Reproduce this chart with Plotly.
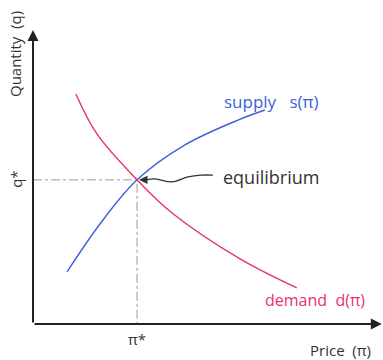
import plotly.graph_objects as go

# (price on x, quantity on y)
supply_price = [1.00, 1.97, 3.06, 4.47, 6.03, 6.82]
supply_qty = [1.76, 3.38, 4.87, 6.05, 6.89, 7.23]

demand_price = [1.26, 1.88, 3.06, 4.09, 6.09, 7.76]
demand_qty = [7.77, 6.42, 4.87, 3.75, 2.20, 1.22]

eq_price = 3.06
eq_qty = 4.87

# squiggly pointer from the "equilibrium" label back to the crossing
pointer_price = [5.29, 4.94, 4.56, 4.09, 3.59, 3.32]
pointer_qty = [5.03, 5.03, 4.97, 4.80, 4.90, 4.87]

BLUE = "#3d5fd8"
PINK = "#e8336b"
INK = "#333333"
FONT = "Open Sans"

fig = go.Figure()

# guide lines to the axes
fig.add_trace(go.Scatter(
    x=[0, eq_price, eq_price], y=[eq_qty, eq_qty, 0],
    mode="lines", line=dict(color="#9a9a9a", width=1, dash="dashdot"),
    hoverinfo="skip"
))

fig.add_trace(go.Scatter(
    x=supply_price, y=supply_qty, mode="lines",
    line=dict(color=BLUE, width=1.4, shape="spline", smoothing=1.0), name="supply"
))
fig.add_trace(go.Scatter(
    x=demand_price, y=demand_qty, mode="lines",
    line=dict(color=PINK, width=1.4, shape="spline", smoothing=1.0), name="demand"
))
fig.add_trace(go.Scatter(
    x=pointer_price, y=pointer_qty, mode="lines",
    line=dict(color=INK, width=1.3, shape="spline"), hoverinfo="skip"
))

annotations = [
    # axes with arrow tips
    dict(x=10.26, y=0, ax=0, ay=0, xref="x", yref="y", axref="x", ayref="y",
         showarrow=True, arrowhead=2, arrowsize=1.1, arrowwidth=2, arrowcolor="#222", text=""),
    dict(x=0, y=9.93, ax=0, ay=0, xref="x", yref="y", axref="x", ayref="y",
         showarrow=True, arrowhead=2, arrowsize=1.1, arrowwidth=2, arrowcolor="#222", text=""),
    # arrow tip of the pointer
    dict(x=eq_price + 0.06, y=eq_qty, ax=pointer_price[-1], ay=pointer_qty[-1],
         xref="x", yref="y", axref="x", ayref="y",
         showarrow=True, arrowhead=2, arrowsize=1.4, arrowwidth=1.2, arrowcolor=INK, text=""),
    dict(x=7.0, y=4.97, text="equilibrium", showarrow=False,
         font=dict(family=FONT, size=18, color=INK)),
    dict(x=7.0, y=7.52, text="supply   s(π)", showarrow=False,
         font=dict(family=FONT, size=17, color=BLUE)),
    dict(x=8.29, y=0.81, text="demand  d(π)", showarrow=False,
         font=dict(family=FONT, size=16, color=PINK)),
    dict(x=eq_price, y=-0.51, text="π*", showarrow=False,
         font=dict(family=FONT, size=15, color=INK)),
    dict(x=9.03, y=-0.88, text="Price  (π)", showarrow=False,
         font=dict(family=FONT, size=15, color=INK)),
    dict(x=-0.5, y=eq_qty, text="q*", showarrow=False, textangle=-90,
         font=dict(family=FONT, size=15, color=INK)),
    dict(x=-0.53, y=9.12, text="Quantity  (q)", showarrow=False, textangle=-90,
         font=dict(family=FONT, size=15, color=INK)),
]

fig.update_layout(
    width=383, height=360,
    margin=dict(l=0, r=0, t=0, b=0),
    paper_bgcolor="white", plot_bgcolor="white",
    showlegend=False,
    xaxis=dict(range=[-0.971, 10.294], visible=False, fixedrange=True),
    yaxis=dict(range=[-1.216, 10.946], visible=False, fixedrange=True),
    annotations=annotations,
)

# drop the page's default body margin so the figure sits at the corner
fig.write_html("out.html", config={"displayModeBar": False},
               post_script="document.body.style.margin='0px';")
